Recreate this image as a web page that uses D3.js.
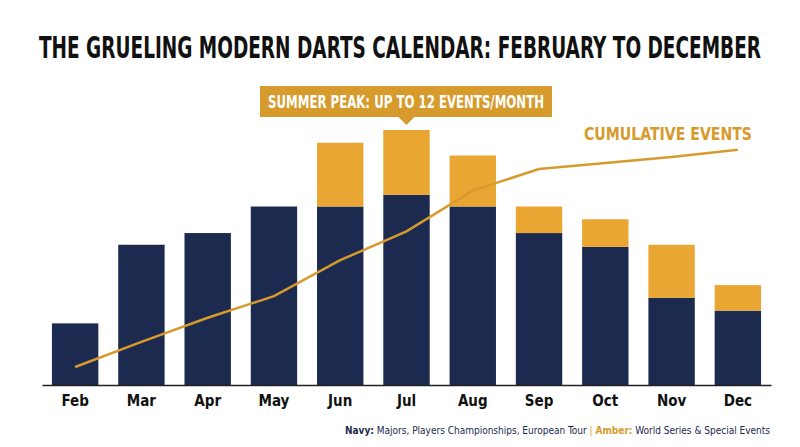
<!DOCTYPE html>
<html><head><meta charset="utf-8">
<script src="https://cdn.jsdelivr.net/npm/d3@7"></script>
<style>body{margin:0;background:#fff}</style></head>
<body><svg id="c" width="800" height="447"></svg>
<script>
const months=["Feb","Mar","Apr","May","Jun","Jul","Aug","Sep","Oct","Nov","Dec"];
const navy=[2.9,6.6,7.15,8.4,8.4,8.95,8.4,7.15,6.5,4.1,3.5];
const amber=[0,0,0,0,3.0,3.05,2.4,1.25,1.3,2.5,1.2];
const cumulative=[7.5,18,28,37,52,64,81,90,92.5,95,98];
const title="THE GRUELING MODERN DARTS CALENDAR: FEBRUARY TO DECEMBER";
const NAVY="#1b2a4e",AMB="#e9a632",LINE="#d69a2d";
const COND="'DejaVu Sans Condensed','Liberation Sans Narrow',sans-serif";
const svg=d3.select("#c");
const x=d3.scaleBand().domain(months).range([42,771]).paddingInner(0.3).paddingOuter(0.15);
const y=d3.scaleLinear().domain([0,12]).range([385,130]);
const yc=d3.scaleLinear().domain([0,100]).range([385,145]);
svg.append("text").attr("x",400).attr("y",58).attr("text-anchor","middle")
 .attr("textLength",722).attr("lengthAdjust","spacingAndGlyphs")
 .style("font","bold 30px "+COND).attr("fill","#111").text(title);
const g=svg.append("g");
g.selectAll(".n").data(months).join("rect").attr("x",d=>x(d)).attr("width",x.bandwidth())
 .attr("y",(d,i)=>y(navy[i])).attr("height",(d,i)=>385-y(navy[i])).attr("fill",NAVY);
g.selectAll(".a").data(months).join("rect").attr("x",d=>x(d)).attr("width",x.bandwidth())
 .attr("y",(d,i)=>y(navy[i]+amber[i])).attr("height",(d,i)=>y(navy[i])-y(navy[i]+amber[i])).attr("fill",AMB);
const ax=svg.append("g").attr("transform","translate(0,385)").call(d3.axisBottom(x).tickSize(0).tickPadding(10));
ax.select(".domain").attr("stroke","#222").attr("stroke-width",1.5);
ax.selectAll("text").style("font","bold 15px "+COND).attr("fill","#111");
const line=d3.line().x((d,i)=>x(months[i])+x.bandwidth()/2).y(d=>yc(d));
svg.append("path").datum(cumulative).attr("d",line).attr("fill","none").attr("stroke",LINE).attr("stroke-width",2.5);
svg.append("text").attr("x",668).attr("y",140).attr("text-anchor","middle")
 .attr("textLength",168).attr("lengthAdjust","spacingAndGlyphs")
 .style("font","bold 17px "+COND).attr("fill",LINE).text("CUMULATIVE EVENTS");
const cx=x("Jul")+x.bandwidth()/2;
svg.append("rect").attr("x",260).attr("y",86).attr("width",292).attr("height",31).attr("fill",LINE);
svg.append("path").attr("d",`M${cx-8},117L${cx+8},117L${cx},125Z`).attr("fill",LINE);
svg.append("text").attr("x",406).attr("y",108).attr("text-anchor","middle")
 .attr("textLength",276).attr("lengthAdjust","spacingAndGlyphs")
 .style("font","bold 18px "+COND).attr("fill","#fff").text("SUMMER PEAK: UP TO 12 EVENTS/MONTH");
const f=svg.append("text").attr("x",770).attr("y",434).attr("text-anchor","end")
 .style("font","10px "+COND);
f.append("tspan").attr("font-weight","bold").attr("fill",NAVY).text("Navy:");
f.append("tspan").attr("fill",NAVY).text(" Majors, Players Championships, European Tour ");
f.append("tspan").attr("fill",LINE).text("| ");
f.append("tspan").attr("font-weight","bold").attr("fill",LINE).text("Amber:");
f.append("tspan").attr("fill",NAVY).text(" World Series & Special Events");
</script></body></html>
